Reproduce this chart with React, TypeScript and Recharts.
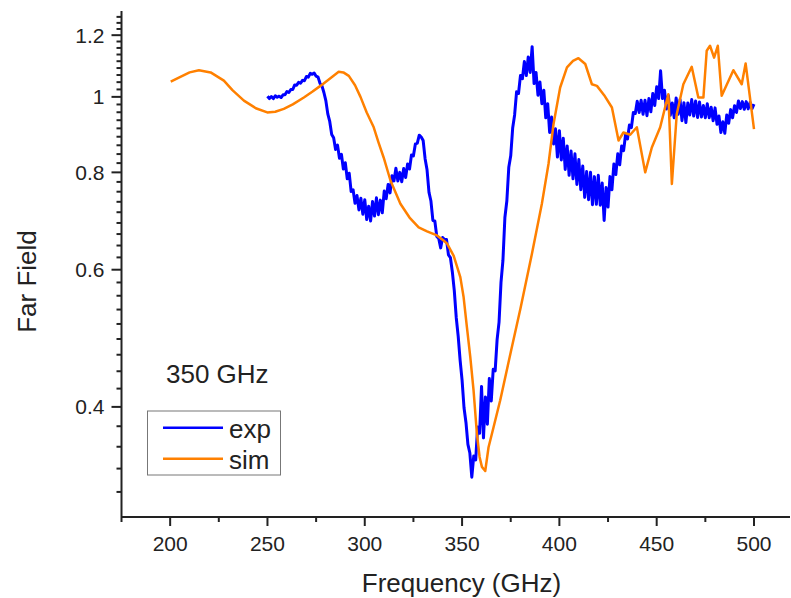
import React from "react"
import { LineChart, Line, XAxis, YAxis, Legend } from "recharts"

// measured curve, 1 GHz steps from 250 GHz
const expStart = 250
const expVals = [
  1.002, 0.995, 1.001, 0.995, 1.003, 0.999, 1.002, 0.998, 1.006, 1.006,
  1.016, 1.013, 1.022, 1.022, 1.036, 1.035, 1.044, 1.041, 1.05, 1.049,
  1.062, 1.06, 1.072, 1.069, 1.073, 1.063, 1.06, 1.041, 1.033, 1.013,
  0.989, 0.951, 0.93, 0.895, 0.886, 0.856, 0.867, 0.834, 0.844, 0.808,
  0.823, 0.785, 0.798, 0.756, 0.76, 0.73, 0.747, 0.716, 0.741, 0.707,
  0.738, 0.696, 0.724, 0.693, 0.734, 0.703, 0.742, 0.706, 0.737, 0.71,
  0.757, 0.74, 0.772, 0.753, 0.792, 0.78, 0.81, 0.78, 0.8, 0.778,
  0.809, 0.788, 0.82, 0.808, 0.842, 0.84, 0.87, 0.872, 0.893, 0.888,
  0.879, 0.833, 0.806, 0.754, 0.735, 0.694, 0.693, 0.662, 0.658, 0.64,
  0.66, 0.656, 0.656, 0.627, 0.622, 0.596, 0.564, 0.521, 0.493, 0.459,
  0.433, 0.399, 0.382, 0.358, 0.349, 0.325, 0.346, 0.342, 0.377, 0.37,
  0.425, 0.365, 0.412, 0.38, 0.435, 0.407, 0.447, 0.445, 0.488, 0.514,
  0.578, 0.617, 0.7, 0.735, 0.812, 0.84, 0.912, 0.948, 1.015, 1.01,
  1.065, 1.055, 1.11, 1.065, 1.125, 1.075, 1.16, 1.04, 1.075, 1.005,
  1.045, 0.98, 1.02, 0.94, 0.98, 0.9, 0.942, 0.87, 0.91, 0.837,
  0.905, 0.83, 0.885, 0.807, 0.865, 0.793, 0.852, 0.785, 0.845, 0.772,
  0.831, 0.76, 0.815, 0.743, 0.802, 0.738, 0.8, 0.727, 0.79, 0.728,
  0.793, 0.726, 0.775, 0.694, 0.765, 0.722, 0.79, 0.76, 0.82, 0.795,
  0.845, 0.818, 0.865, 0.853, 0.894, 0.883, 0.92, 0.913, 0.955, 0.952,
  0.987, 0.955, 0.99, 0.95, 0.99, 0.946, 0.995, 0.957, 1.01, 0.975,
  1.03, 0.995, 1.08, 0.995, 1.02, 0.965, 1.004, 0.947, 0.982, 0.94,
  0.997, 0.95, 0.992, 0.932, 0.983, 0.927, 0.982, 0.948, 0.992, 0.945,
  0.988, 0.941, 0.985, 0.942, 0.975, 0.94, 0.98, 0.94, 0.97, 0.932,
  0.968, 0.922, 0.945, 0.9, 0.929, 0.898, 0.948, 0.925, 0.963, 0.94,
  0.974, 0.955, 0.988, 0.966, 0.986, 0.964, 0.986, 0.965, 0.984, 0.966, 0.979,
]

// simulated curve
const simFreq = [
  200.3, 205, 210, 214.8, 220.8, 227.6, 232, 237.9, 244, 249.9, 254, 258.4, 263, 268.7, 273, 277.2,
  282, 286.6, 289, 291.8, 295, 297.8, 301, 304.6, 307, 309.7, 313.2, 318.3, 323, 327.7, 332, 337.1,
  340.5, 342.3, 345.7, 349.1, 350.8, 352.5, 354.2, 355.9, 357.6, 359, 360.2, 361.9, 363.6, 366.2,
  369.6, 375, 380, 385.9, 391, 394.4, 397, 400.4, 403.9, 407, 409.8, 413.3, 416.7, 419.3, 423, 427,
  430.4, 432.9, 436.4, 439.8, 444.1, 447.5, 451.8, 456, 457.8, 460.3, 463.7, 468, 471.4, 474,
  475.7, 477.4, 479.5, 481.4, 483.4, 489.4, 493.7, 495.7, 500,
]
const simVals = [
  1.046, 1.06, 1.075, 1.082, 1.075, 1.049, 1.02, 0.989, 0.967, 0.955, 0.957, 0.965, 0.978, 0.998, 1.015, 1.033,
  1.055, 1.077, 1.075, 1.064, 1.035, 1.0, 0.955, 0.914, 0.875, 0.836, 0.781, 0.729, 0.7, 0.68, 0.672, 0.664,
  0.654, 0.648, 0.625, 0.587, 0.553, 0.506, 0.464, 0.42, 0.37, 0.345, 0.335, 0.331, 0.355, 0.377,
  0.408, 0.47, 0.535, 0.629, 0.729, 0.82, 0.923, 1.028, 1.091, 1.112, 1.121, 1.102, 1.038, 1.033, 1.005, 0.969,
  0.879, 0.9, 0.894, 0.914, 0.8, 0.861, 0.914, 1.008, 0.773, 0.95, 1.038, 1.093, 0.998, 0.998,
  1.146, 1.163, 1.123, 1.163, 1.003, 1.082, 1.038, 1.104, 0.909,
]

const xMajor = [200, 250, 300, 350, 400, 450, 500]
const xTicks = [175, 200, 225, 250, 275, 300, 325, 350, 375, 400, 425, 450, 475, 500]
const yMajor = [0.4, 0.6, 0.8, 1, 1.2]
const yLabels = ["0.4", "0.6", "0.8", "1", "1.2"]

const expData = expVals.map((v, i) => ({ f: expStart + i, v }))
const simData = simFreq.map((f, i) => ({ f, v: simVals[i] }))

const X_DOMAIN: [number, number] = [175, 518.5]
const Y_DOMAIN: [number, number] = [0.28889, 1.28889]

// Origin style: 8 minor ticks between majors
const yTicks: number[] = []
for (let k = -5; k <= 40; k++) {
  const v = +(0.4 + (k * 0.2) / 9).toFixed(5)
  if (v > Y_DOMAIN[0] + 0.001 && v < Y_DOMAIN[1] - 0.001) yTicks.push(v)
}

const FONT = '"Liberation Sans", Arial, sans-serif'
const INK = "#222"
const BLUE = "#0000ff"
const ORANGE = "#ff8000"

const XTick = (props: any) => {
  const { x, y, payload } = props
  const major = xMajor.includes(payload.value)
  return (
    <g>
      <line x1={x} x2={x} y1={y} y2={y + (major ? 9 : 5)} stroke={INK} strokeWidth={2} />
      {major && (
        <text x={x} y={y + 34} textAnchor="middle" fontSize={21} fontFamily={FONT} fill={INK}>
          {payload.value}
        </text>
      )}
    </g>
  )
}

const YTick = (props: any) => {
  const { x, y, payload } = props
  const idx = yMajor.findIndex((m) => Math.abs(m - payload.value) < 1e-4)
  const major = idx >= 0
  return (
    <g>
      <line x1={x} x2={x - (major ? 10 : 5)} y1={y} y2={y} stroke={INK} strokeWidth={2} />
      {major && (
        <text x={x - 17} y={y + 7.5} textAnchor="end" fontSize={21} fontFamily={FONT} fill={INK}>
          {yLabels[idx]}
        </text>
      )}
    </g>
  )
}

const LegendBox = (props: any) => {
  const items = props.payload || []
  return (
    <svg width={791} height={598} style={{ position: "absolute", left: 0, top: 0, overflow: "visible" }}>
      <text x={166} y={382.5} fontSize={26} fontFamily={FONT} fill={INK}>
        350 GHz
      </text>
      <rect x={147.5} y={411} width={133} height={64} fill="#fff" stroke="#777" strokeWidth={1} />
      {items.map((it: any, i: number) => (
        <g key={it.value}>
          <line x1={163} x2={223} y1={427.7 + i * 31} y2={427.7 + i * 31} stroke={it.color} strokeWidth={2.5} />
          <text x={229} y={437.5 + i * 31} fontSize={26} fontFamily={FONT} fill={INK}>
            {it.value}
          </text>
        </g>
      ))}
    </svg>
  )
}

export default function App() {
  return (
    <div style={{ position: "absolute", left: 0, top: 0, width: 791, height: 598, background: "#fff" }}>
      <LineChart width={791} height={598} margin={{ top: 11, right: 1, bottom: 51, left: 61.5 }}>
        <XAxis
          xAxisId="top"
          orientation="top"
          type="number"
          dataKey="f"
          domain={X_DOMAIN}
          allowDataOverflow
          height={0}
          tick={false}
          tickLine={false}
          axisLine={{ stroke: INK, strokeWidth: 2 }}
        />
        <XAxis
          type="number"
          dataKey="f"
          domain={X_DOMAIN}
          allowDataOverflow
          ticks={xTicks}
          interval={0}
          tick={<XTick />}
          tickLine={false}
          tickSize={0}
          tickMargin={0}
          height={30}
          axisLine={{ stroke: INK, strokeWidth: 2 }}
          label={{
            content: () => (
              <text x={461.5} y={592} textAnchor="middle" fontSize={26} fontFamily={FONT} fill={INK}>
                Frequency (GHz)
              </text>
            ),
          }}
        />
        <YAxis
          type="number"
          scale="log"
          domain={Y_DOMAIN}
          allowDataOverflow
          ticks={yTicks}
          interval={0}
          tick={<YTick />}
          tickLine={false}
          tickSize={0}
          tickMargin={0}
          width={60}
          axisLine={{ stroke: INK, strokeWidth: 2 }}
          label={{
            content: () => (
              <text
                transform="rotate(-90)"
                x={-281.5}
                y={36}
                textAnchor="middle"
                fontSize={26}
                fontFamily={FONT}
                fill={INK}
              >
                Far Field
              </text>
            ),
          }}
        />
        <Line
          data={expData}
          dataKey="v"
          name="exp"
          type="linear"
          stroke={BLUE}
          strokeWidth={3}
          strokeLinejoin="round"
          dot={false}
          isAnimationActive={false}
        />
        <Line
          data={simData}
          dataKey="v"
          name="sim"
          type="linear"
          stroke={ORANGE}
          strokeWidth={2.5}
          strokeLinejoin="round"
          dot={false}
          isAnimationActive={false}
        />
        <Legend
          layout="horizontal"
          verticalAlign="middle"
          align="center"
          content={<LegendBox />}
          wrapperStyle={{ position: "absolute", left: 0, top: 0, width: 791, height: 598, pointerEvents: "none" }}
        />
      </LineChart>
    </div>
  )
}
